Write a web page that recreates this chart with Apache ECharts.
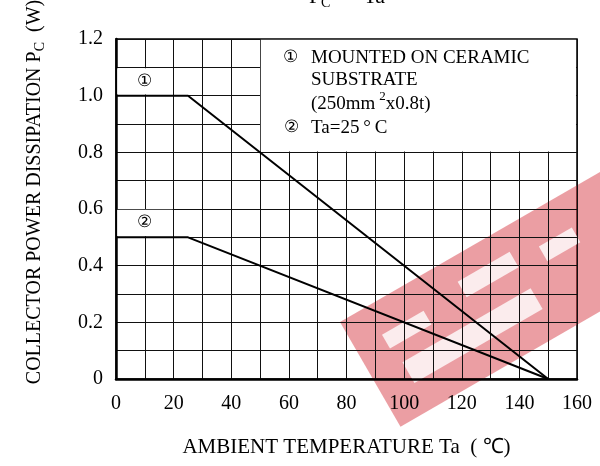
<!DOCTYPE html>
<html>
<head>
<meta charset="utf-8">
<script src="https://cdn.jsdelivr.net/npm/echarts@6/dist/echarts.min.js"></script>
<style>html,body{margin:0;padding:0;background:#fff;}#c{width:600px;height:466px;}</style>
</head>
<body>
<div id="c"></div>
<script>
// Data
const temp1 = [0, 25, 150];
const pc1 = [1.0, 1.0, 0];
const temp2 = [0, 25, 150];
const pc2 = [0.5, 0.5, 0];
const xTicks = [0, 20, 40, 60, 80, 100, 120, 140, 160];
const yTicks = ['0', '0.2', '0.4', '0.6', '0.8', '1.0', '1.2'];
const legendLines = ['MOUNTED ON CERAMIC', 'SUBSTRATE'];

const SERIF = "'Liberation Serif', 'Times New Roman', serif";
const chart = echarts.init(document.getElementById('c'), null, {renderer: 'canvas'});

const option = {
  animation: false,
  backgroundColor: '#fff',
  grid: {left: 116, right: 23, top: 39, bottom: 87, show: true, borderColor: '#000', borderWidth: 1.5, backgroundColor: 'transparent'},
  xAxis: {
    type: 'value', min: xTicks[0], max: xTicks[xTicks.length - 1], interval: 20,
    axisLine: {show: true, onZero: false, lineStyle: {color: '#000', width: 2.5}},
    axisTick: {show: false},
    minorTick: {show: false, splitNumber: 2},
    splitLine: {show: true, lineStyle: {color: '#111', width: 1}},
    minorSplitLine: {show: true, lineStyle: {color: '#111', width: 1}},
    axisLabel: {color: '#000', fontFamily: SERIF, fontSize: 20, margin: 15},
    name: 'AMBIENT TEMPERATURE Ta  ( \u2103)', nameLocation: 'middle', nameGap: 58,
    nameTextStyle: {color: '#000', fontFamily: SERIF, fontSize: 21}
  },
  yAxis: {
    type: 'value', min: 0, max: 1.2, interval: 0.2,
    axisLine: {show: true, onZero: false, lineStyle: {color: '#000', width: 2.5}},
    axisTick: {show: false},
    minorTick: {show: false, splitNumber: 2},
    splitLine: {show: true, lineStyle: {color: '#111', width: 1}},
    minorSplitLine: {show: true, lineStyle: {color: '#111', width: 1}},
    axisLabel: {color: '#000', fontFamily: SERIF, fontSize: 20, margin: 13,
      formatter: function (v) { return yTicks[Math.round(v / 0.2)]; }}
  },
  series: [
    {
      type: 'line', data: temp1.map((t, i) => [t, pc1[i]]), symbol: 'none',
      lineStyle: {color: '#000', width: 2}, z: 3,
      markArea: {
        silent: true,
        itemStyle: {color: '#fff', opacity: 1, borderWidth: 0},
        label: {show: true, position: 'inside', color: '#000', fontSize: 17, fontFamily: SERIF},
        data: [
          [{xAxis: 0.4, yAxis: 1.004, name: '\u2460'}, {xAxis: 19.7, yAxis: 1.097}],
          [{xAxis: 0.4, yAxis: 0.504, name: '\u2461'}, {xAxis: 19.7, yAxis: 0.597}],
          [{xAxis: 50.25, yAxis: 0.803, name: ''}, {xAxis: 159.65, yAxis: 1.197}]
        ]
      }
    },
    {
      type: 'line', data: temp2.map((t, i) => [t, pc2[i]]), symbol: 'none',
      lineStyle: {color: '#000', width: 2}, z: 3
    }
  ],
  graphic: [
    // title (cropped at top)
    {type: 'text', x: 347, y: -3, z: 10, style: {
      text: '{m|P}{s|C}{m|  \u2013  Ta}', align: 'center', verticalAlign: 'middle', fill: '#000',
      rich: {m: {fontFamily: SERIF, fontSize: 22, lineHeight: 26, verticalAlign: 'middle'},
             s: {fontFamily: SERIF, fontSize: 14, lineHeight: 14, verticalAlign: 'bottom'}}}},
    // y axis name
    {type: 'text', x: 35, y: 192, rotation: Math.PI / 2, z: 10, style: {
      text: '{m|COLLECTOR POWER DISSIPATION P}{s|C}{m|  (W)}', align: 'center', verticalAlign: 'middle', fill: '#000',
      rich: {m: {fontFamily: SERIF, fontSize: 20, lineHeight: 24, verticalAlign: 'middle'},
             s: {fontFamily: SERIF, fontSize: 14, lineHeight: 14, verticalAlign: 'bottom'}}}},
    // legend texts
    {type: 'text', x: 290, y: 58, z: 10, style: {text: '\u2460', fontSize: 17, fontFamily: SERIF, fill: '#000', align: 'center', verticalAlign: 'middle'}},
    {type: 'text', x: 311, y: 58, z: 10, style: {text: legendLines[0], fontSize: 19, fontFamily: SERIF, fill: '#000', verticalAlign: 'middle'}},
    {type: 'text', x: 311, y: 80, z: 10, style: {text: legendLines[1], fontSize: 19, fontFamily: SERIF, fill: '#000', verticalAlign: 'middle'}},
    {type: 'text', x: 311, y: 102, z: 10, style: {
      text: '{m|(250mm\u2009}{p|2}{m|x0.8t)}', fill: '#000', verticalAlign: 'middle',
      rich: {m: {fontFamily: SERIF, fontSize: 19, lineHeight: 24, verticalAlign: 'bottom'},
             p: {fontFamily: SERIF, fontSize: 13, lineHeight: 17, verticalAlign: 'top'}}}},
    {type: 'text', x: 291, y: 128, z: 10, style: {text: '\u2461', fontSize: 17, fontFamily: SERIF, fill: '#000', align: 'center', verticalAlign: 'middle'}},
    {type: 'text', x: 311, y: 128, z: 10, style: {text: 'Ta=25\u2009\u00b0\u2009C', fontSize: 19, fontFamily: SERIF, fill: '#000', verticalAlign: 'middle'}},
    // watermark
    {type: 'group', x: 340, y: 322, rotation: Math.PI / 6, z: 20, silent: true, children: [
      {type: 'rect', shape: {x: 0, y: 0, width: 340, height: 121}, style: {fill: 'rgba(210,40,50,0.45)'}},
      {type: 'rect', shape: {x: 30, y: 32, width: 48, height: 16}, style: {fill: 'rgba(255,255,255,0.8)'}},
      {type: 'rect', shape: {x: 122, y: 24, width: 60, height: 18}, style: {fill: 'rgba(255,255,255,0.8)'}},
      {type: 'rect', shape: {x: 210, y: 34, width: 38, height: 17}, style: {fill: 'rgba(255,255,255,0.8)'}},
      {type: 'rect', shape: {x: 34, y: 66, width: 148, height: 24}, style: {fill: 'rgba(255,255,255,0.8)'}}
    ]}
  ]
};
chart.setOption(option);
</script>
</body>
</html>
